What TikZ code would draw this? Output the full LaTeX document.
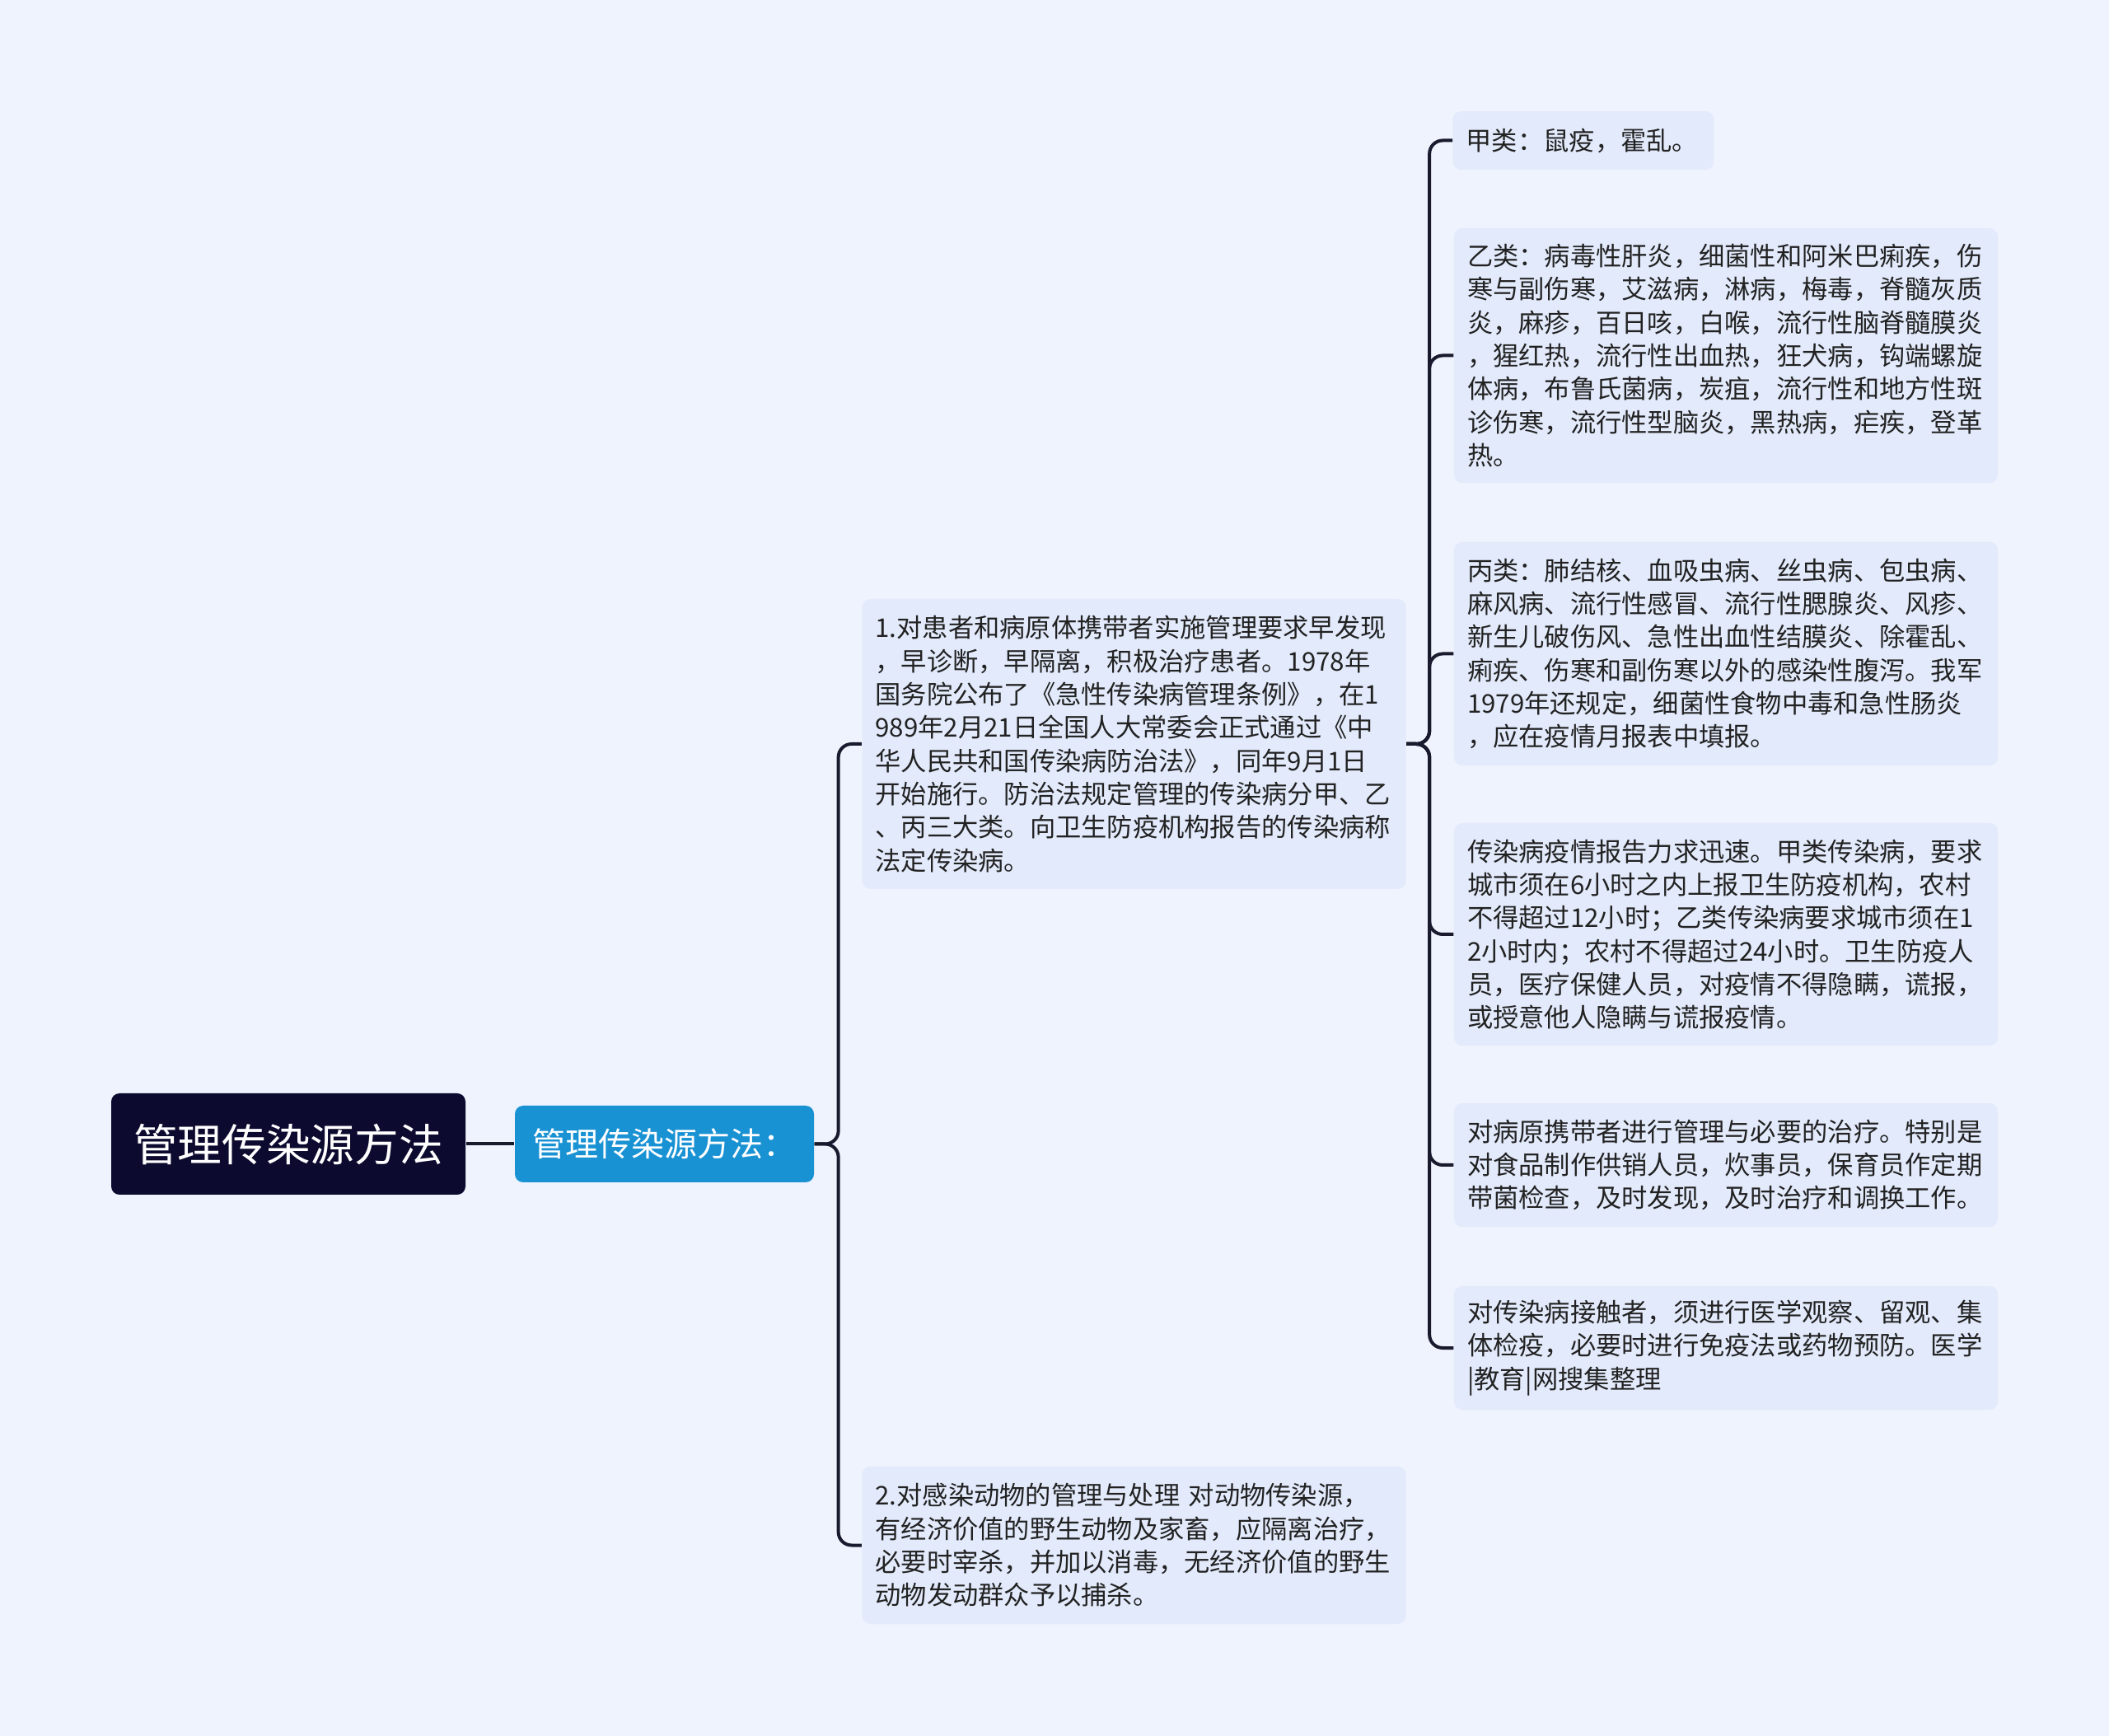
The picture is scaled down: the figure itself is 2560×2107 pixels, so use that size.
\documentclass[tikz,border=0pt]{standalone}
\usepackage{fontspec}
\setmainfont{Noto Sans CJK SC}
\definecolor{bgC}{RGB}{239,243,254}
\definecolor{boxC}{RGB}{226,234,251}
\definecolor{rootC}{RGB}{12,10,46}
\definecolor{lvC}{RGB}{25,146,212}
\definecolor{lineC}{RGB}{26,26,46}
\definecolor{textC}{RGB}{34,34,34}
\begin{document}
\begin{tikzpicture}[x=0.3pt,y=-0.3pt,
  conn/.style={draw=lineC, line width=1.2pt, rounded corners=4.8pt},
  rootS/.style={fill=rootC, text=white, rounded corners=3pt, inner sep=0pt,
    font=\fontsize{16.1pt}{19pt}\selectfont},
  lvS/.style={fill=lvC, text=white, rounded corners=3pt, inner sep=0pt,
    font=\fontsize{12pt}{14pt}\selectfont},
  leaf/.style={fill=boxC, rounded corners=3pt, text=textC,
    font=\fontsize{9.38pt}{12.1pt}\selectfont, align=left,
    inner xsep=4.8pt, inner ysep=2pt, text width=188.4pt}]
\path[use as bounding box, fill=bgC] (0,0) rectangle (2560,2107);

\node[rootS, minimum width=129pt, minimum height=36.9pt] (root) at (350,1388.5) {管理传染源方法};
\node[lvS, minimum width=108.9pt, minimum height=27.9pt] (l1) at (806.5,1388.5) {管理传染源方法：};

\node[leaf, minimum height=105.6pt] (n1) at (1376.5,903) {1.对患者和病原体携带者实施管理要求早发现\\
，早诊断，早隔离，积极治疗患者。1978年\\
国务院公布了《急性传染病管理条例》，在1\\
989年2月21日全国人大常委会正式通过《中\\
华人民共和国传染病防治法》，同年9月1日\\
开始施行。防治法规定管理的传染病分甲、乙\\
、丙三大类。向卫生防疫机构报告的传染病称\\
法定传染病。};

\node[leaf, minimum height=57.3pt] (n2) at (1376.5,1875.5) {2.对感染动物的管理与处理 对动物传染源，\\
有经济价值的野生动物及家畜，应隔离治疗，\\
必要时宰杀，并加以消毒，无经济价值的野生\\
动物发动群众予以捕杀。};

\node[leaf, text width=85.4pt, minimum height=21.3pt] (c1) at (1922,170.5) {甲类：鼠疫，霍乱。};

\node[leaf, minimum height=92.7pt] (c2) at (2095,431.5) {乙类：病毒性肝炎，细菌性和阿米巴痢疾，伤\\
寒与副伤寒，艾滋病，淋病，梅毒，脊髓灰质\\
炎，麻疹，百日咳，白喉，流行性脑脊髓膜炎\\
，猩红热，流行性出血热，狂犬病，钩端螺旋\\
体病，布鲁氏菌病，炭疽，流行性和地方性斑\\
诊伤寒，流行性型脑炎，黑热病，疟疾，登革\\
热。};

\node[leaf, minimum height=81.3pt] (c3) at (2095,793.5) {丙类：肺结核、血吸虫病、丝虫病、包虫病、\\
麻风病、流行性感冒、流行性腮腺炎、风疹、\\
新生儿破伤风、急性出血性结膜炎、除霍乱、\\
痢疾、伤寒和副伤寒以外的感染性腹泻。我军\\
1979年还规定，细菌性食物中毒和急性肠炎\\
，应在疫情月报表中填报。};

\node[leaf, minimum height=81pt] (c4) at (2095,1134) {传染病疫情报告力求迅速。甲类传染病，要求\\
城市须在6小时之内上报卫生防疫机构，农村\\
不得超过12小时；乙类传染病要求城市须在1\\
2小时内；农村不得超过24小时。卫生防疫人\\
员，医疗保健人员，对疫情不得隐瞒，谎报，\\
或授意他人隐瞒与谎报疫情。};

\node[leaf, minimum height=45pt] (c5) at (2095,1414) {对病原携带者进行管理与必要的治疗。特别是\\
对食品制作供销人员，炊事员，保育员作定期\\
带菌检查，及时发现，及时治疗和调换工作。};

\node[leaf, minimum height=45pt] (c6) at (2095,1636) {对传染病接触者，须进行医学观察、留观、集\\
体检疫，必要时进行免疫法或药物预防。医学\\
|教育|网搜集整理};

\draw[conn] (root.east) -- (l1.west);
\foreach \n in {n1,n2}{
  \draw[conn] (l1.east) -- ++(29,0) |- (\n.west);
}
\foreach \c in {c1,c2,c3,c4,c5,c6}{
  \draw[conn] (n1.east) -- ++(28,0) |- (\c.west);
}
\end{tikzpicture}
\end{document}
